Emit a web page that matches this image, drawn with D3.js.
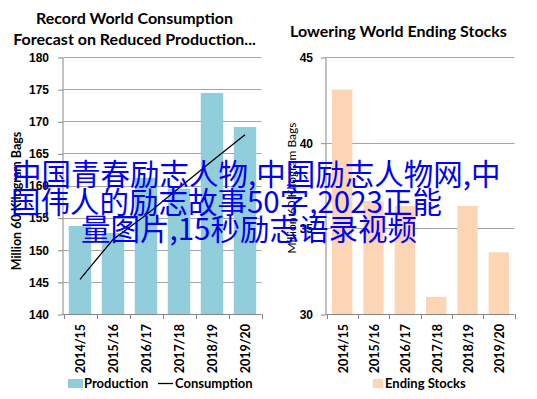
<!DOCTYPE html>
<html>
<head>
<meta charset="utf-8">
<script src="https://cdn.jsdelivr.net/npm/d3@7"></script>
<style>
  body { margin: 0; background: #fff; }
  svg { display: block; font-family: Lato, "Open Sans", sans-serif; }
</style>
</head>
<body>
<div id="graph"></div>
<script>
const w = 537;
const h = 399;

// data
const years = ["2014/15", "2015/16", "2016/17", "2017/18", "2018/19", "2019/20"];
const production = [153.7, 152.6, 161.2, 159.5, 174.4, 169.1];
const consumption = [145.4, 151.6, 155.4, 159.6, 163.8, 167.9];
const endingStocks = [43.1, 36.6, 36.3, 31.0, 36.3, 33.6];
const leftTicks = [140, 145, 150, 155, 160, 165, 170, 175, 180];
const rightTicks = [30, 35, 40, 45];
const overlayLines = ["中国青春励志人物,中国励志人物网,中", "国伟人的励志故事50字,2023正能", "量图片,15秒励志语录视频"];

const svg = d3.select('#graph')
              .append('svg')
              .attr('width', w)
              .attr('height', h);

const gridColor = '#a6a6a6';
const axisColor = '#868686';
const plotTop = 57, plotBottom = 314;

function panel(opt) {
  const g = svg.append('g');

  const xScale = d3.scaleBand()
                  .domain(years)
                  .range(opt.xRange)
                  .paddingInner(opt.pad)
                  .paddingOuter(opt.pad / 2);

  const yScale = d3.scaleLinear()
                  .domain(opt.yDomain)
                  .range([plotBottom, plotTop]);

  // gridlines
  g.append('g').selectAll('line')
    .data(opt.ticks.slice(1))
    .enter().append('line')
    .attr('x1', opt.xRange[0]).attr('x2', opt.gridEnd)
    .attr('y1', d => Math.round(yScale(d)) + 0.5)
    .attr('y2', d => Math.round(yScale(d)) + 0.5)
    .attr('stroke', gridColor);

  // bars
  g.append('g').selectAll('rect')
    .data(opt.values)
    .enter().append('rect')
    .attr('x', (d, i) => xScale(years[i]))
    .attr('y', d => yScale(d))
    .attr('width', xScale.bandwidth())
    .attr('height', d => plotBottom - yScale(d))
    .attr('fill', opt.color);

  // y axis
  const yAxis = d3.axisLeft(yScale)
                  .tickValues(opt.ticks)
                  .tickSize(5)
                  .tickPadding(opt.tickPad);
  const ya = g.append('g')
      .attr('transform', 'translate(' + (opt.xRange[0] - 0.5) + ',0.5)')
      .call(yAxis);
  ya.selectAll('line, path').attr('stroke', axisColor);
  ya.select('.domain').attr('d', 'M0,' + plotTop + 'V' + plotBottom);
  ya.selectAll('text')
    .style('font-size', '12px')
    .style('font-weight', 'bold')
    .attr('fill', '#000');

  // x axis: ticks on band edges
  const edges = years.map(d => xScale(d) - xScale.step() * xScale.paddingInner() / 2)
                     .concat([opt.xRange[1]]);
  const xa = g.append('g');
  xa.append('line')
    .attr('x1', opt.xRange[0] - 0.5).attr('x2', opt.gridEnd)
    .attr('y1', plotBottom + 0.5).attr('y2', plotBottom + 0.5)
    .attr('stroke', axisColor);
  xa.selectAll('.tk')
    .data(edges)
    .enter().append('line')
    .attr('x1', d => Math.round(d) + 0.5).attr('x2', d => Math.round(d) + 0.5)
    .attr('y1', plotBottom).attr('y2', plotBottom + 5)
    .attr('stroke', axisColor);
  xa.selectAll('text')
    .data(years)
    .enter().append('text')
    .attr('transform', d => 'translate(' + (xScale(d) + xScale.bandwidth() / 2 + 1) + ',' + (plotBottom + 10) + ') rotate(-90)')
    .attr('text-anchor', 'end')
    .attr('dy', '0.35em')
    .style('font-size', '12.5px')
    .style('font-weight', 'bold')
    .text(d => d);

  // y label
  g.append('text')
    .attr('transform', 'translate(' + opt.labelX + ',' + opt.labelY + ') rotate(-90)')
    .attr('text-anchor', 'middle')
    .attr('dy', '0.35em')
    .style('font-size', opt.labelSize)
    .style('font-weight', opt.labelWeight)
    .text('Million 60 Kilogram Bags');

  // title
  g.append('g').selectAll('text')
    .data(opt.title)
    .enter().append('text')
    .attr('x', opt.titleX)
    .attr('y', (d, i) => opt.titleY + i * 21)
    .attr('text-anchor', 'middle')
    .style('font-size', '16px')
    .style('font-weight', 'bold')
    .text(d => d);

  return { g: g, xScale: xScale, yScale: yScale };
}

const left = panel({
  values: production, color: '#92cddc',
  xRange: [63.5, 261.5], gridEnd: 261.5, pad: 0.32,
  yDomain: [140, 180], ticks: leftTicks, tickPad: 9,
  labelX: 17, labelY: 201, labelSize: '12.5px', labelWeight: 'bold',
  title: ['Record World Consumption', 'Forecast on Reduced Production...'],
  titleX: 134.5, titleY: 24
});

// consumption line
const line = d3.line()
    .x((d, i) => left.xScale(years[i]) + left.xScale.bandwidth() / 2)
    .y(d => left.yScale(d));
left.g.append('path')
    .datum(consumption)
    .attr('d', line)
    .attr('fill', 'none')
    .attr('stroke', '#000')
    .attr('stroke-width', 1.3);

const right = panel({
  values: endingStocks, color: '#fcd5b5',
  xRange: [326.5, 514.5], gridEnd: 514.5, pad: 0.35,
  yDomain: [30, 45], ticks: rightTicks, tickPad: 8,
  labelX: 292, labelY: 188, labelSize: '12px', labelWeight: 'normal',
  title: ['Lowering World Ending Stocks'],
  titleX: 398.5, titleY: 37
});

// legends
const legL = svg.append('g').attr('transform', 'translate(68,379)');
legL.append('rect').attr('width', 15).attr('height', 9).attr('fill', '#92cddc');
legL.append('text').attr('x', 16).attr('y', 4.5).attr('dy', '0.35em')
    .style('font-size', '13px').style('font-weight', 'bold').text('Production');
legL.append('line').attr('x1', 90).attr('x2', 105).attr('y1', 4.5).attr('y2', 4.5)
    .attr('stroke', '#000').attr('stroke-width', 1.3);
legL.append('text').attr('x', 107).attr('y', 4.5).attr('dy', '0.35em')
    .style('font-size', '13px').style('font-weight', 'bold').text('Consumption');

const legR = svg.append('g').attr('transform', 'translate(373,379)');
legR.append('rect').attr('width', 10).attr('height', 9).attr('fill', '#fcd5b5');
legR.append('text').attr('x', 12).attr('y', 4.5).attr('dy', '0.35em')
    .style('font-size', '13px').style('font-weight', 'bold').text('Ending Stocks');

// overlay text
const overlayX = [12, 11, 81];
svg.append('g').selectAll('text')
   .data(overlayLines)
   .enter().append('text')
   .attr('x', (d, i) => overlayX[i])
   .attr('y', (d, i) => 185 + i * 27.5)
   .attr('fill', '#0000f5')
   .style('font-family', '"Noto Sans CJK SC", sans-serif')
   .style('font-size', '29.5px')
   .text(d => d);
</script>
</body>
</html>
